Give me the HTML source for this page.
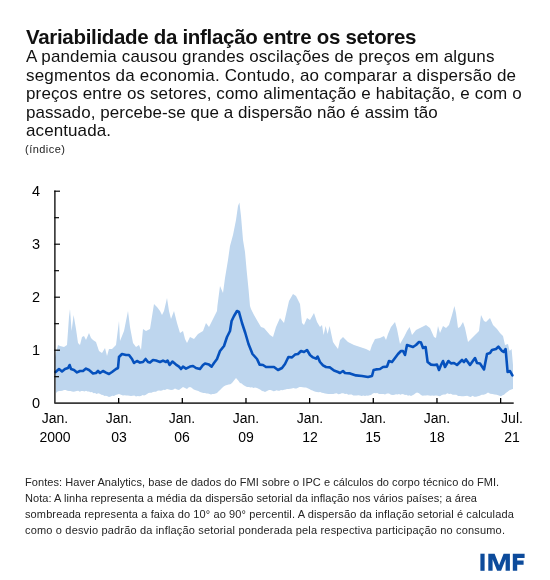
<!DOCTYPE html>
<html><head><meta charset="utf-8">
<style>
html,body{margin:0;padding:0;background:#fff;}
body{width:550px;height:580px;position:relative;overflow:hidden;-webkit-font-smoothing:antialiased;font-family:"Liberation Sans",sans-serif;color:#111;}
.ln{position:absolute;white-space:nowrap;line-height:1;will-change:transform;}
svg{position:absolute;left:0;top:0;}
.yl{position:absolute;left:26px;width:20px;text-align:center;font-size:14.5px;line-height:18px;color:#000;will-change:transform;}
.xl{position:absolute;top:408.5px;width:60px;text-align:center;font-size:14px;line-height:19px;color:#000;will-change:transform;}
</style></head><body>
<div class="ln" style="left:26px;top:26.65px;font-size:20.5px;letter-spacing:-0.313px;font-weight:bold;color:#111">Variabilidade da inflação entre os setores</div><div class="ln" style="left:26px;top:48.11px;font-size:17px;letter-spacing:0.114px;font-weight:normal;color:#111">A pandemia causou grandes oscilações de preços em alguns</div><div class="ln" style="left:26px;top:66.61px;font-size:17px;letter-spacing:0.174px;font-weight:normal;color:#111">segmentos da economia. Contudo, ao comparar a dispersão de</div><div class="ln" style="left:26px;top:85.01px;font-size:17px;letter-spacing:0.131px;font-weight:normal;color:#111">preços entre os setores, como alimentação e habitação, e com o</div><div class="ln" style="left:26px;top:103.91px;font-size:17px;letter-spacing:0.052px;font-weight:normal;color:#111">passado, percebe-se que a dispersão não é assim tão</div><div class="ln" style="left:26px;top:121.61px;font-size:17px;letter-spacing:0.095px;font-weight:normal;color:#111">acentuada.</div><div class="ln" style="left:25px;top:143.69px;font-size:11px;letter-spacing:0.473px;font-weight:normal;color:#222">(índice)</div><div class="ln" style="left:25.4px;top:476.69px;font-size:11px;letter-spacing:0.063px;font-weight:normal;color:#242424">Fontes: Haver Analytics, base de dados do FMI sobre o IPC e cálculos do corpo técnico do FMI.</div><div class="ln" style="left:25.4px;top:492.69px;font-size:11px;letter-spacing:0.061px;font-weight:normal;color:#242424">Nota: A linha representa a média da dispersão setorial da inflação nos vários países; a área</div><div class="ln" style="left:25.4px;top:508.69px;font-size:11px;letter-spacing:0.119px;font-weight:normal;color:#242424">sombreada representa a faixa do 10° ao 90° percentil. A dispersão da inflação setorial é calculada</div><div class="ln" style="left:25.4px;top:524.69px;font-size:11px;letter-spacing:0.174px;font-weight:normal;color:#242424">como o desvio padrão da inflação setorial ponderada pela respectiva participação no consumo.</div>
<svg width="550" height="580" viewBox="0 0 550 580">
<polygon points="55,357 58,345 60,346 64,347 67,345 69,317 70,309 71.6,331 73.6,315 76,329 78,343 80,345 82,337 84,336 86,340 89,333 91,338 93,340 96,342 99,351 102,353 105,348 107,356 109,349 112,349 116,345 119,321 120,341 124,331 128,311 130,327 133,343 136,347 139,345 141,350 143,329 146,331 150,329 154,304 157,307 160,311 162,315 164,311 167,298 169,311 171,319 174,311 177,323 180,333 183,331 185,339 187,343 190,337 194,339 198,334 203,331 206,323 209,327 213,319 217,311 217.4,306 220,286 223,293 225,278 228,260 230,246 233,235 236,220 238,206 239.4,202.4 241,216 243,240 245,252 246.6,270 248.6,290 250,306 251,309 254,315 258,322 261,327 264,328 270,335 273,337 276,327 280,318 284,323 289,301 293,294 296,296 300,304 302,323 304,325 307,318 310,320 314,313 317,322 320,327 322,325 323.6,335 325.6,326 327.6,334 329.6,326 333,342 335,345 338,349 340,340 343,337 348,342 354,345 360,347 366,349 370,351 372,345 375,339 380,338 384,336 386,340 388,334 391,327 395,322 397,329 400,344 404,337 407,331 409.6,327 412,335 416,330 420,328 426,325 430,328 434,337 436,338 438,326 440,333 443,326 446,328 449,325 452,315 454.4,306 456,313 458,328 460,327 463,322 465,328 468,342 472,338 476,334 479,331 481,315 484,321 486,322 490,318 493,325 497,329 500,333 503,336 505,345 508,344 509.6,351 511.6,349 513,365 513,389 512.8,389 511.3,389.6 509.45,390.35 507.6,391.8 505.8,393.07 504,394.7 502.5,395.3 501,396.2 498.85,395.46 496.7,394.7 494.55,394.59 492.4,394 490.2,393.82 488,392.5 485.8,394.04 483.6,394.7 481.67,394.81 479.73,395.78 477.8,396.2 476.04,396.81 474.28,396.7 472.52,395.83 470.76,396.89 469,396.5 467.2,395.84 465.4,396.05 463.6,396.17 461.8,396.2 459.98,396.12 458.15,395.98 456.32,394.85 454.5,394.7 452.7,394.78 450.9,393.77 449.1,394.1 447.3,393.3 445.48,394.59 443.65,394.51 441.82,394.95 440,396.2 438.5,396.06 437,395.6 435.4,395.39 433.8,395.69 432.2,395.47 430.6,395.78 429,395.6 427.4,395.15 425.8,395.38 424.2,395.6 422.6,395.69 421,395 419,393.36 417,392.4 415.5,393.35 414,394.41 412.5,395.35 411,396 409.5,395.34 408,395.76 406.5,394.83 405,395 403.5,394.17 402,393.92 400.5,394.63 399,394 397.5,394.38 396,394.15 394.5,394.76 393,395 391,394.78 389,393.6 387,393.53 385,394.4 383.5,393.93 382,394.11 380.5,393.96 379,394 377.33,393.1 375.67,393.3 374,393 372.5,393.79 371,395 369.5,395.2 368,395.75 366.5,395.48 365,396 363.33,395.54 361.67,395.9 360,395.39 358.33,395.22 356.67,395.48 355,395.6 353.33,395.48 351.67,394.6 350,394.5 348.33,394.84 346.67,393.68 345,394 343.33,393.35 341.67,393.37 340,394.01 338.33,394.14 336.67,393.37 335,393.6 333.33,393.98 331.67,393.96 330,393.96 328.33,394.03 326.67,393.7 325,393.6 323.4,392.89 321.8,392.64 320.2,392.07 318.6,392.27 317,392 315.5,391.63 314,391.15 312.5,390.55 311,390 309.33,389.02 307.67,388.23 306,387.6 304.33,387.38 302.67,387.21 301,387 299.5,386.99 298,387.78 296.5,388.49 295,388.4 293.4,387.99 291.8,388.55 290.2,388.83 288.6,388.9 287,389 285.5,389.62 284,389.79 282.5,390.21 281,390 279.5,390.63 278,390.84 276.5,390.16 275,391 273.5,391.3 272,390.56 270.5,389.97 269,390 267,390.95 265,392 263.5,391.34 262,391.04 260.5,389.77 259,389 257,387.98 255,387.6 253.5,387.88 252,387.35 250.5,387.47 249,387 247,387.08 245,386 243.33,385 241.67,383.6 240,383 238,380.37 236,378 234,380.61 232,383 230.33,384.25 228.67,384.58 227,385 225.33,385.45 223.67,386.44 222,388 220.33,389.65 218.67,391.21 217,393 215.5,393.38 214,394.03 212.5,394.06 211,394.4 209.5,393.98 208,393.55 206.5,393.56 205,393 203.33,392.91 201.67,392.39 200,392 198.33,390.94 196.67,390.56 195,390 193.33,389.36 191.67,387.69 190,387 188.5,387.44 187,389 185,388.11 183,387 181,388.51 179,390 177,389.62 175,388.4 173,389.66 171,390 169,389.61 167,389 165,390 163.5,389.86 162,390.4 160.5,390.7 159,390.4 157.5,390.71 156,391.72 154.5,391.85 153,392 151.5,392.77 150,392.8 148.5,393.05 147,394 145.5,394.93 144,395.59 142.5,395.12 141,396 139.33,396.17 137.67,396.07 136,396.41 134.33,395.43 132.67,395.75 131,396 129.4,395.87 127.8,395.5 126.2,395.44 124.6,395.36 123,395.6 121,394.79 119,394 117.33,394.59 115.67,395 114,396 112.33,395.77 110.67,396.57 109,397 107.5,396.16 106,395.86 104.5,396.03 103,395 101.4,394.65 99.8,393.63 98.2,393.24 96.6,393.88 95,393 93.5,393.18 92,391.97 90.5,392.22 89,391.6 87.5,391.38 86,390.7 84.5,391.46 83,391 81.4,391.04 79.8,391.64 78.2,390.79 76.6,390.99 75,391.6 73.5,391.8 72,391.48 70.5,391.09 69,391 67.33,390.66 65.67,390.04 64,390 62.33,390.65 60.67,391.08 59,391 57.5,391.56 56,393" fill="#bed6ee"/>
<polyline points="55.6,372 59,369 62,371.4 65,369 68,368 69.6,365 71,369 74,370 77,372.4 80,371 83,371 86,368.6 89,370 93,373.4 96,373 98,371 100,373 103,371 106,372.6 109,374 112,372 116,369 118,368 119,357 122,354 126,355 129,355 132,359 134,363 137,361 140,362.6 143,362 145.6,359 148,362 150,362.6 153,360 156,360.6 160,362 163,360.6 166,362 167.6,360.6 169.6,365 172.4,361.6 176,364.6 179,366.6 181,369 183,366.6 186,368.6 190,366.6 193,366 196,368 200,369 203,365 205,363.6 209,364.6 211.6,366.6 214,363 217,359 220,351 224,346 227,337 230,331 231.6,321 234,316 237,311 239,312 242,323 245.3,333 248.5,344 252.5,354 257,359 259.6,364.6 263,365 266,367 270,367 274,367 278,370 282,368 285,364 288.4,357 292,357.4 295,354.6 298,354 301,351 304,352 307,350 310,355 313,357.4 316,358.6 317.6,356.6 320,362 323,365.4 326,367 330,367.4 334,370.6 338,372 340,373 343,371 345,373 350,373.4 356,375.4 362,376 368,377 372,376 373.6,370 376,369.4 380,369 383,367 387,366.6 389,361 392,362 395,358 398,354 401,351 403,351 405,355 407,345 410,346 413,347 416,345 419,342 421,342.6 423,348 425.6,347 427.6,362 431,364.6 434,365 437,364.6 439,370 441,365 443,361 445,367 448.4,361 451,363.4 454,363 457,365 462,360 464,362 466,359.4 470,365 475,358 477,363 480,363.6 484,369.4 487,354 490,353 492,350 496,349 498.4,346.6 502,351 503.6,352 505.6,349 507.6,372 510,371 512.4,375.4" fill="none" stroke="#0651bd" stroke-width="2.6" stroke-linejoin="round" stroke-linecap="round"/>
<line x1="54.9" y1="190.6" x2="54.9" y2="403" stroke="#000" stroke-width="1.3"/>
<line x1="54.3" y1="376.70" x2="59" y2="376.70" stroke="#000" stroke-width="1.15"/>
<line x1="54.3" y1="350.20" x2="60" y2="350.20" stroke="#000" stroke-width="1.15"/>
<line x1="54.3" y1="323.70" x2="59" y2="323.70" stroke="#000" stroke-width="1.15"/>
<line x1="54.3" y1="297.20" x2="60" y2="297.20" stroke="#000" stroke-width="1.15"/>
<line x1="54.3" y1="270.70" x2="59" y2="270.70" stroke="#000" stroke-width="1.15"/>
<line x1="54.3" y1="244.20" x2="60" y2="244.20" stroke="#000" stroke-width="1.15"/>
<line x1="54.3" y1="217.70" x2="59" y2="217.70" stroke="#000" stroke-width="1.15"/>
<line x1="54.3" y1="191.20" x2="60" y2="191.20" stroke="#000" stroke-width="1.15"/>
<line x1="54.3" y1="403.1" x2="513.7" y2="403.1" stroke="#3a3a3a" stroke-width="1.7"/>
<line x1="118.66" y1="398" x2="118.66" y2="403" stroke="#000" stroke-width="1.3"/>
<line x1="182.32" y1="398" x2="182.32" y2="403" stroke="#000" stroke-width="1.3"/>
<line x1="245.98" y1="398" x2="245.98" y2="403" stroke="#000" stroke-width="1.3"/>
<line x1="309.64" y1="398" x2="309.64" y2="403" stroke="#000" stroke-width="1.3"/>
<line x1="373.30" y1="398" x2="373.30" y2="403" stroke="#000" stroke-width="1.3"/>
<line x1="436.96" y1="398" x2="436.96" y2="403" stroke="#000" stroke-width="1.3"/>
<line x1="500.62" y1="398" x2="500.62" y2="403" stroke="#000" stroke-width="1.3"/><g fill="#0d4b9b">
<rect x="480.4" y="553.7" width="4.2" height="17.1"/>
<polygon points="488.3,570.8 488.3,553.7 494.6,553.7 499.1,565.2 503.6,553.7 509.9,553.7 509.9,570.8 505.6,570.8 505.6,559.2 501.1,570.8 497.1,570.8 492.6,559.2 492.6,570.8"/>
<polygon points="512.8,570.8 512.8,553.7 524.6,553.7 524.6,557.9 517.2,557.9 517.2,560.6 523.6,560.6 523.6,564.7 517.2,564.7 517.2,570.8"/>
</g>
</svg>
<div class="yl" style="top:394.0px">0</div><div class="yl" style="top:341.0px">1</div><div class="yl" style="top:288.0px">2</div><div class="yl" style="top:235.0px">3</div><div class="yl" style="top:182.0px">4</div>
<div class="xl" style="left:25.0px">Jan.<br>2000</div><div class="xl" style="left:88.7px">Jan.<br>03</div><div class="xl" style="left:152.3px">Jan.<br>06</div><div class="xl" style="left:216.0px">Jan.<br>09</div><div class="xl" style="left:279.6px">Jan.<br>12</div><div class="xl" style="left:343.3px">Jan.<br>15</div><div class="xl" style="left:407.0px">Jan.<br>18</div><div class="xl" style="left:482.0px">Jul.<br>21</div>
</body></html>
